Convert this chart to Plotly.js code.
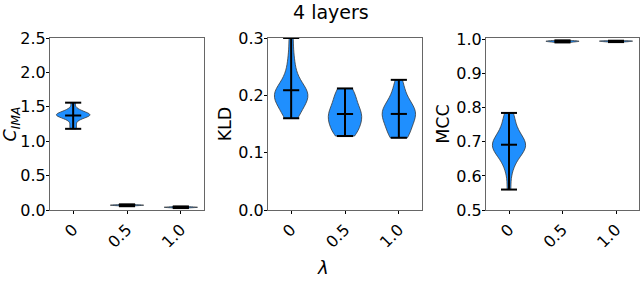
<!DOCTYPE html>
<html>
<head>
<meta charset="utf-8">
<script src="https://cdn.plot.ly/plotly-3.0.1.min.js"></script>
<style>html,body{margin:0;padding:0;background:#fff;}#chart{width:640px;height:281px;}</style>
</head>
<body>
<div id="chart"></div>
<script>
// ---- data ----
var lambdas = ['0', '0.5', '1.0'];
var positions = [0, 1, 2];

var cimaL0 = [1.18, 1.24, 1.31, 1.34, 1.36, 1.37, 1.38, 1.38, 1.39, 1.40, 1.42, 1.43, 1.47, 1.56];
var cimaL05 = [0.055, 0.062, 0.066, 0.068, 0.070, 0.071, 0.073, 0.076, 0.082];
var cimaL1 = [0.028, 0.033, 0.036, 0.038, 0.040, 0.041, 0.043, 0.046, 0.052];

var kldL0 = [0.160, 0.165, 0.172, 0.180, 0.186, 0.190, 0.194, 0.197, 0.200, 0.202, 0.205, 0.208, 0.212, 0.218, 0.225, 0.235, 0.250, 0.270, 0.300];
var kldL05 = [0.129, 0.131, 0.135, 0.138, 0.142, 0.148, 0.153, 0.157, 0.160, 0.163, 0.166, 0.168, 0.171, 0.175, 0.180, 0.186, 0.192, 0.198, 0.204, 0.208, 0.212];
var kldL1 = [0.126, 0.128, 0.132, 0.138, 0.147, 0.153, 0.158, 0.162, 0.166, 0.169, 0.172, 0.175, 0.178, 0.183, 0.190, 0.200, 0.212, 0.227];

var mccL0 = [0.560, 0.610, 0.635, 0.650, 0.660, 0.668, 0.675, 0.680, 0.684, 0.688, 0.692, 0.696, 0.700, 0.705, 0.712, 0.720, 0.730, 0.742, 0.755, 0.778, 0.785];
var mccL05 = [0.992, 0.993, 0.994, 0.995, 0.995, 0.996, 0.996, 0.997, 0.998];
var mccL1 = [0.993, 0.994, 0.995, 0.995, 0.996, 0.996, 0.997, 0.997];

var panels = [
  {ax: '', series: [cimaL0, cimaL05, cimaL1]},
  {ax: '2', series: [kldL0, kldL05, kldL1]},
  {ax: '3', series: [mccL0, mccL05, mccL1]}
];

// ---- build traces ----
var FILL = '#1f8ffe';
var CAP = 0.15;
var traces = [];
panels.forEach(function (p) {
  p.series.forEach(function (vals, i) {
    var xpos = positions[i];
    traces.push({
      type: 'violin',
      x: vals.map(function () { return xpos; }),
      y: vals,
      xaxis: 'x' + p.ax, yaxis: 'y' + p.ax,
      width: 0.62, scalemode: 'width', spanmode: 'hard',
      points: false, box: {visible: false}, meanline: {visible: false},
      fillcolor: FILL, opacity: 1,
      line: {color: '#3a3a3a', width: 0.8},
      hoverinfo: 'skip', showlegend: false
    });
    var mn = Math.min.apply(null, vals), mx = Math.max.apply(null, vals);
    var mean = vals.reduce(function (a, b) { return a + b; }, 0) / vals.length;
    traces.push({
      type: 'scatter', mode: 'lines',
      x: [xpos - CAP, xpos + CAP, null, xpos - CAP, xpos + CAP, null, xpos - CAP, xpos + CAP, null, xpos, xpos],
      y: [mn, mn, null, mx, mx, null, mean, mean, null, mn, mx],
      xaxis: 'x' + p.ax, yaxis: 'y' + p.ax,
      line: {color: '#000', width: 2}, hoverinfo: 'skip', showlegend: false, cliponaxis: false
    });
  });
});

// ---- layout ----
var W = 640, H = 281;
function px(v) { return v / W; }
var yDom = [1 - 210 / H, 1 - 38 / H];
var tickFont = {family: 'DejaVu Sans, sans-serif', size: 16, color: '#000'};
var labFont = {family: 'DejaVu Sans, sans-serif', size: 17.5, color: '#000'};

function xaxis(dom, anchor) {
  return {
    domain: dom, anchor: anchor, range: [-0.43, 2.43],
    tickmode: 'array', tickvals: positions, ticktext: lambdas, tickangle: -45,
    ticks: 'outside', ticklen: 3, tickcolor: '#000', tickfont: tickFont,
    showgrid: false, zeroline: false, showline: true, linecolor: '#666', linewidth: 1, mirror: true
  };
}
function yaxis(anchor, range, dtick, title, standoff) {
  return {
    domain: yDom, anchor: anchor, range: range, dtick: dtick, tick0: 0, tickformat: '.1f',
    ticks: 'outside', ticklen: 3, tickcolor: '#000', tickfont: tickFont, ticklabelstandoff: -3,
    showgrid: false, zeroline: false, showline: true, linecolor: '#666', linewidth: 1, mirror: true,
    title: {text: title, font: labFont, standoff: standoff}
  };
}

var layout = {
  width: W, height: H,
  margin: {l: 0, r: 0, t: 0, b: 0},
  paper_bgcolor: '#fff', plot_bgcolor: '#fff',
  violinmode: 'overlay',
  xaxis: xaxis([px(50), px(204)], 'y'),
  xaxis2: xaxis([px(268), px(422)], 'y2'),
  xaxis3: xaxis([px(486), px(639)], 'y3'),
  yaxis: yaxis('x', [0, 2.5], 0.5, '<i>C</i><sub><i>IMA</i></sub>', 2),
  yaxis2: yaxis('x2', [0, 0.3], 0.1, 'KLD', 2),
  yaxis3: yaxis('x3', [0.5, 1.005], 0.1, 'MCC', 2),
  annotations: [
    {text: '4 layers', xref: 'paper', yref: 'paper', x: px(331), y: 1 - 12 / H,
     xanchor: 'center', yanchor: 'middle', showarrow: false,
     font: {family: 'DejaVu Sans, sans-serif', size: 19, color: '#000'}},
    {text: '<i>λ</i>', xref: 'paper', yref: 'paper', x: px(323), y: 1 - 280 / H,
     xanchor: 'center', yanchor: 'bottom', showarrow: false,
     font: {family: 'DejaVu Sans, sans-serif', size: 18, color: '#000'}}
  ]
};

Plotly.newPlot('chart', traces, layout, {staticPlot: true, displayModeBar: false});
</script>
</body>
</html>
